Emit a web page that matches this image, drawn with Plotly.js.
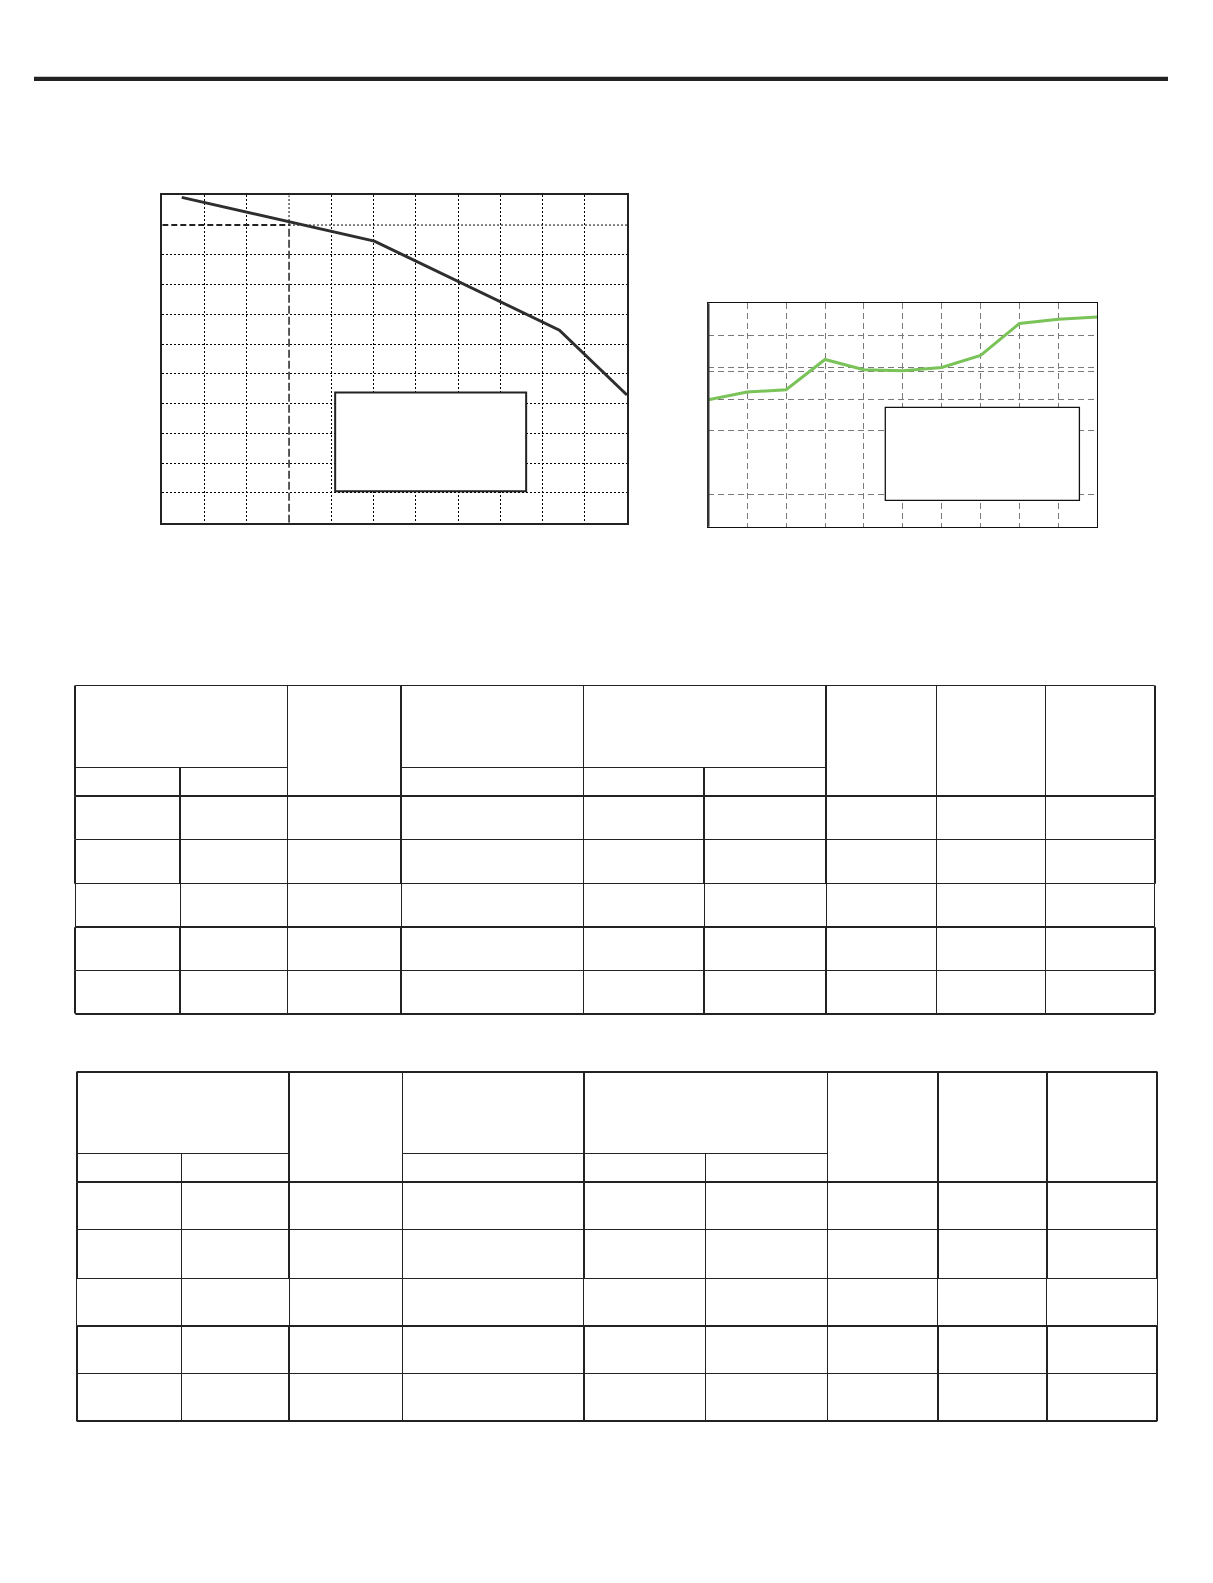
<!DOCTYPE html>
<html>
<head>
<meta charset="utf-8">
<script src="https://cdn.plot.ly/plotly-3.0.1.min.js"></script>
<style>
  body { margin: 0; background: #fff; }
  #page { width: 1213px; height: 1583px; }
</style>
</head>
<body>
<div id="page"></div>
<script>
const W = 1213, H = 1583;

// left chart: falling curve + reference point
const curveX = [0.46, 5.02, 9.40, 11];
const curveY = [10.93, 9.46, 6.47, 4.29];
const refX = 3;
const refY = 10;
const leftXTicks = [1, 2, 3, 4, 5, 6, 7, 8, 9, 10];
const leftYTicks = [1, 2, 3, 4, 5, 6, 7, 8, 9, 10];

// right chart: green line
const greenX = [0, 1, 2, 3, 4, 5, 6, 7, 8, 9, 10];
const greenY = [3.98, 4.22, 4.29, 5.24, 4.92, 4.89, 4.99, 5.37, 6.37, 6.50, 6.57];
const rightXTicks = [1, 2, 3, 4, 5, 6, 7, 8, 9];
const rightYTicks = [1, 3, 4, 4.86, 5, 6];

// pixel -> paper helpers
function px(x) { return x / W; }
function py(y) { return 1 - y / H; }
// keep 1px lines on half pixels, 2px lines on whole pixels
function snap(v, w) { return w % 2 === 1 ? Math.floor(v) + 0.5 : Math.round(v); }

const ink = "#222";

const data = [
  {
    x: curveX, y: curveY, xaxis: "x", yaxis: "y",
    type: "scatter", mode: "lines",
    line: { color: "#2e2e2e", width: 3 },
    hoverinfo: "skip"
  },
  {
    x: greenX, y: greenY, xaxis: "x2", yaxis: "y2",
    type: "scatter", mode: "lines",
    line: { color: "#79c359", width: 3 },
    hoverinfo: "skip"
  }
];

const shapes = [];

// top rule
shapes.push({
  type: "line", xref: "paper", yref: "paper",
  x0: px(34), x1: px(1168), y0: py(78.8), y1: py(78.8),
  line: { color: ink, width: 4.3 }
});

// left chart reference lines
shapes.push({ type: "line", xref: "x", yref: "y", x0: 0, x1: refX, y0: refY, y1: refY,
  layer: "between", line: { color: ink, width: 2, dash: "6px,3px" } });
shapes.push({ type: "line", xref: "x", yref: "y", x0: refX, x1: 11, y0: refY, y1: refY,
  layer: "between", line: { color: "#000", width: 1, dash: "2px,2px" } });
shapes.push({ type: "line", xref: "x", yref: "y", x0: refX, x1: refX, y0: 0, y1: refY,
  layer: "between", line: { color: "#000", width: 1.3, dash: "8px,3px" } });
shapes.push({ type: "line", xref: "x", yref: "y", x0: refX, x1: refX, y0: refY, y1: 11,
  layer: "between", line: { color: "#000", width: 1, dash: "2px,2px" } });

// empty legend boxes
shapes.push({ type: "rect", xref: "x domain", yref: "y domain",
  x0: 0.372, x1: 0.783, y0: 0.096, y1: 0.398,
  fillcolor: "#fff", layer: "above", line: { color: ink, width: 2 } });
shapes.push({ type: "rect", xref: "x2 domain", yref: "y2 domain",
  x0: 0.455, x1: 0.954, y0: 0.118, y1: 0.534,
  fillcolor: "#fff", layer: "above", line: { color: "#111", width: 1.3 } });

// right chart thicker left edge
shapes.push({ type: "line", xref: "x2 domain", yref: "y2 domain",
  x0: 0, x1: 0, y0: 0, y1: 1, layer: "above", line: { color: "#333", width: 2.4 } });

function hline(x0, x1, y, w) {
  const s = snap(y, w);
  shapes.push({ type: "line", xref: "paper", yref: "paper",
    x0: px(x0), x1: px(x1), y0: py(s), y1: py(s), line: { color: ink, width: w } });
}
function vline(x, y0, y1, w) {
  const s = snap(x, w);
  shapes.push({ type: "line", xref: "paper", yref: "paper",
    x0: px(s), x1: px(s), y0: py(y0), y1: py(y1), line: { color: ink, width: w } });
}

// header: cols 0-1 grouped, col 2 single, col 3 with sub line, cols 4-5 grouped, 6-8 single
function drawTable(cols, rows, hW, vW) {
  const last = cols.length - 1;
  hline(cols[0], cols[last], rows[0], hW[0]);
  hline(cols[0], cols[2], rows[1], hW[1]);
  hline(cols[3], cols[6], rows[1], hW[1]);
  for (let r = 2; r < rows.length; r++) hline(cols[0], cols[last], rows[r], hW[r]);

  for (let j = 0; j <= last; j++) {
    if (j === 1 || j === 5) vline(cols[j], rows[1], rows[2], vW[j]);
    else vline(cols[j], rows[0], rows[2], vW[j]);
  }
  for (let r = 2; r < rows.length - 1; r++) {
    for (let j = 0; j <= last; j++) {
      vline(cols[j], rows[r], rows[r + 1], r === 4 ? 1 : vW[j]);
    }
  }
}

drawTable(
  [75.3, 180, 287.5, 401, 583, 704, 826, 936, 1045, 1154.5],
  [685.5, 767.5, 796.3, 839.6, 883.8, 927.3, 970.8, 1013.5],
  [1, 1, 2, 1, 1, 2, 1, 2],
  [2, 2, 1, 2, 1, 2, 2, 1, 1, 2]
);
drawTable(
  [76.6, 181.6, 289, 402.2, 583.8, 705.4, 827.4, 937.5, 1046.6, 1157.3],
  [1071.8, 1153.8, 1182.2, 1229.7, 1278, 1325.6, 1373, 1421],
  [2, 1, 2, 1, 1, 2, 1, 2],
  [2, 1, 2, 1, 2, 1, 1, 2, 2, 2]
);

const hiddenLabels = { showticklabels: false, ticks: "", zeroline: false, fixedrange: true };

const layout = {
  width: W, height: H, autosize: false,
  margin: { l: 0, r: 0, t: 0, b: 0 },
  paper_bgcolor: "#fff", plot_bgcolor: "#fff",
  showlegend: false,
  xaxis: Object.assign({
    domain: [px(162.3), px(627)], range: [0, 11],
    tickvals: leftXTicks.filter(v => v !== refX),
    showgrid: true, gridcolor: "#000", gridwidth: 1, griddash: "2px,2px",
    showline: true, mirror: true, linecolor: ink, linewidth: 2
  }, hiddenLabels),
  yaxis: Object.assign({
    domain: [py(522.7), py(195.3)], range: [0, 11],
    tickvals: leftYTicks.filter(v => v !== refY),
    showgrid: true, gridcolor: "#000", gridwidth: 1, griddash: "2px,2px",
    showline: true, mirror: true, linecolor: ink, linewidth: 2
  }, hiddenLabels),
  xaxis2: Object.assign({
    anchor: "y2",
    domain: [px(708.3), px(1097.3)], range: [0, 10],
    tickvals: rightXTicks,
    showgrid: true, gridcolor: "#7a7a7a", gridwidth: 1, griddash: "6px,4px",
    showline: true, mirror: true, linecolor: "#111", linewidth: 1
  }, hiddenLabels),
  yaxis2: Object.assign({
    anchor: "x2",
    domain: [py(526.7), py(303.3)], range: [0, 7],
    tickvals: rightYTicks,
    showgrid: true, gridcolor: "#7a7a7a", gridwidth: 1, griddash: "6px,4px",
    showline: true, mirror: true, linecolor: "#111", linewidth: 1
  }, hiddenLabels),
  shapes: shapes
};

Plotly.newPlot("page", data, layout, { staticPlot: true, displayModeBar: false });
</script>
</body>
</html>
